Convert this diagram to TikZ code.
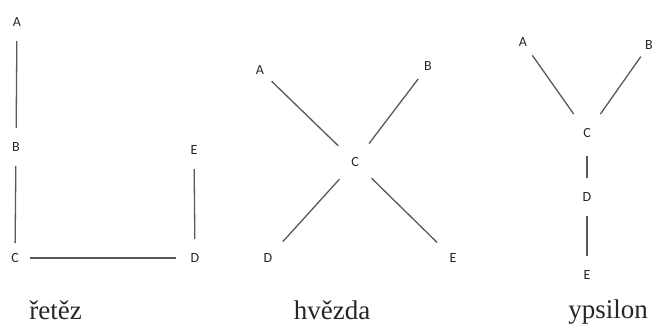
\documentclass[tikz,border=0pt]{standalone}
\usepackage{fontspec}
\setmainfont{Liberation Serif}
\newfontfamily\labfont{Carlito}
\begin{document}
\begin{tikzpicture}[x=1pt,y=-1pt,
  vx/.style={circle,inner sep=0pt,minimum size=38pt,font=\labfont\fontsize{14}{14}\selectfont,text=black!85},
  big/.style={minimum size=46pt},
  mid/.style={minimum size=44pt},
  small/.style={minimum size=32pt},
  edge/.style={draw=black!65,line width=1.3pt},
  caption/.style={anchor=base,inner sep=0pt,font=\fontsize{27}{27}\selectfont,text=black!85}]
\useasboundingbox (0,0) rectangle (652,327);
% chain
\node[vx] (cA) at (17,22) {A};
\node[vx] (cB) at (16,147) {B};
\node[vx,minimum size=30pt] (cC) at (15,258) {C};
\node[vx] (cD) at (195,258) {D};
\node[vx] (cE) at (194,150) {E};
\draw[edge] (cA) -- (cB);
\draw[edge] (cB) -- (cC);
\draw[edge] (cC) -- (cD);
\draw[edge] (cE) -- (cD);
\node[caption] (t1) at (55.5,319) {řetěz};
% star
\node[vx,small] (sA) at (260,70) {A};
\node[vx,small] (sB) at (428,66) {B};
\node[vx,big] (sC) at (355,162) {C};
\node[vx,mid] (sD) at (268,258) {D};
\node[vx,mid] (sE) at (453,258) {E};
\draw[edge] (sA) -- (sC);
\draw[edge] (sB) -- (sC);
\draw[edge] (sC) -- (sD);
\draw[edge] (sC) -- (sE);
\node[caption] (t2) at (332,319) {hvězda};
% ypsilon
\node[vx,small] (yA) at (523,42) {A};
\node[vx,minimum size=28pt] (yB) at (649,45) {B};
\node[vx,big] (yC) at (587,133) {C};
\node[vx] (yD) at (587,197) {D};
\node[vx] (yE) at (587,275) {E};
\draw[edge] (yA) -- (yC);
\draw[edge] (yB) -- (yC);
\draw[edge] (yC) -- (yD);
\draw[edge] (yD) -- (yE);
\node[caption] (t3) at (608,318) {ypsilon};
\end{tikzpicture}
\end{document}
